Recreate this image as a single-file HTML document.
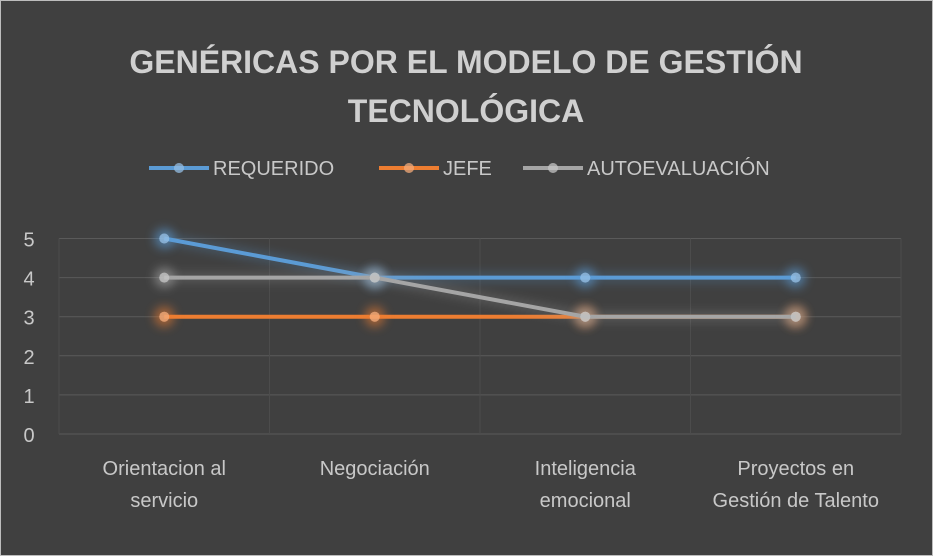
<!DOCTYPE html>
<html><head><meta charset="utf-8"><style>
body{margin:0;background:#fff}
#c{width:933px;height:556px;background:#404040;position:relative;box-sizing:border-box;border:1px solid #bdbdbd}
text{font-family:"Liberation Sans",sans-serif}
</style></head><body>
<div id="c">
<svg id="s" width="931" height="554" xmlns="http://www.w3.org/2000/svg">
<defs>
<filter id="glow" x="-100%" y="-100%" width="300%" height="300%"><feGaussianBlur stdDeviation="5"/></filter>
</defs>
<text x="465" y="72" text-anchor="middle" font-size="32" font-weight="bold" fill="#d0d0d0">GENÉRICAS POR EL MODELO DE GESTIÓN</text>
<text x="465" y="121" text-anchor="middle" font-size="32" font-weight="bold" fill="#d0d0d0">TECNOLÓGICA</text>
<g id="legend"></g>
<g id="grid"></g>
<g id="series"></g>
<g id="labels"></g>
</svg>
</div>
<script>
const categories=[["Orientacion al","servicio"],["Negociación"],["Inteligencia","emocional"],["Proyectos en","Gestión de Talento"]];
const yTicks=[0,1,2,3,4,5];
const seriesNames=["REQUERIDO","JEFE","AUTOEVALUACIÓN"];
const requerido=[5,4,4,4];
const jefe=[3,3,3,3];
const autoevaluacion=[4,4,3,3];
const colors=["#5b9bd5","#ed7d31","#a5a5a5"];
const ns="http://www.w3.org/2000/svg";
const L=58,R=900,Y0=433,YU=39.1;
const bw=(R-L)/categories.length;
const xs=i=>L+bw*(i+0.5);
const ys=v=>Y0-v*YU;
function mk(t,a,p){const e=document.createElementNS(ns,t);for(const k in a)e.setAttribute(k,a[k]);p.appendChild(e);return e;}
const grid=document.getElementById('grid'),lab=document.getElementById('labels'),ser=document.getElementById('series'),leg=document.getElementById('legend');
yTicks.forEach(v=>{
 const l=mk('line',{x1:L,x2:R,y1:ys(v),y2:ys(v),stroke:'#5a5a5a','stroke-width':1},grid);
 
 
 const t=mk('text',{x:28,y:ys(v)+8,'text-anchor':'middle','font-size':20,fill:'#c8c8c8'},lab);t.textContent=v;
 
 
});
for(let i=0;i<=categories.length;i++){
 const l=mk('line',{x1:L+bw*i,x2:L+bw*i,y1:ys(5),y2:Y0,stroke:'#4c4c4c','stroke-width':1},grid);
 
 
}
categories.forEach((c,i)=>{
 c.forEach((s,j)=>{const t=mk('text',{x:xs(i),y:474+j*32,'text-anchor':'middle','font-size':20,fill:'#c8c8c8'},lab);t.textContent=s;
 
 });
});
[requerido,jefe,autoevaluacion].forEach((d,k)=>{
 const g=mk('g',{},ser);
 
 
 const pts=d.map((v,i)=>xs(i)+','+ys(v)).join(' ');
 mk('polyline',{points:pts,fill:'none',stroke:colors[k],'stroke-width':10,opacity:0.25,filter:'url(#glow)'},g);
 const pl=mk('polyline',{points:pts,fill:'none',stroke:colors[k],'stroke-width':4},g);
 
 
 d.forEach((v,i)=>{
  mk('circle',{cx:xs(i),cy:ys(v),r:10,fill:colors[k],opacity:0.6,filter:'url(#glow)'},g);
  const p=mk('circle',{cx:xs(i),cy:ys(v),r:5,fill:'#ffffff',opacity:0.55},g);
  const p2=mk('circle',{cx:xs(i),cy:ys(v),r:5,fill:colors[k],opacity:0.5},g);
  
  
 });
});
const lx=[148,378,522];
seriesNames.forEach((n,k)=>{
 const g=mk('g',{},leg);
 
 
 mk('line',{x1:lx[k],x2:lx[k]+60,y1:167,y2:167,stroke:colors[k],'stroke-width':4},g);
 mk('circle',{cx:lx[k]+30,cy:167,r:5,fill:'#fff',opacity:0.5},g);
 mk('circle',{cx:lx[k]+30,cy:167,r:5,fill:colors[k],opacity:0.5},g);
 const t=mk('text',{x:lx[k]+64,y:174,'font-size':20,fill:'#c8c8c8'},g);t.textContent=n;
});
</script>
</body></html>
